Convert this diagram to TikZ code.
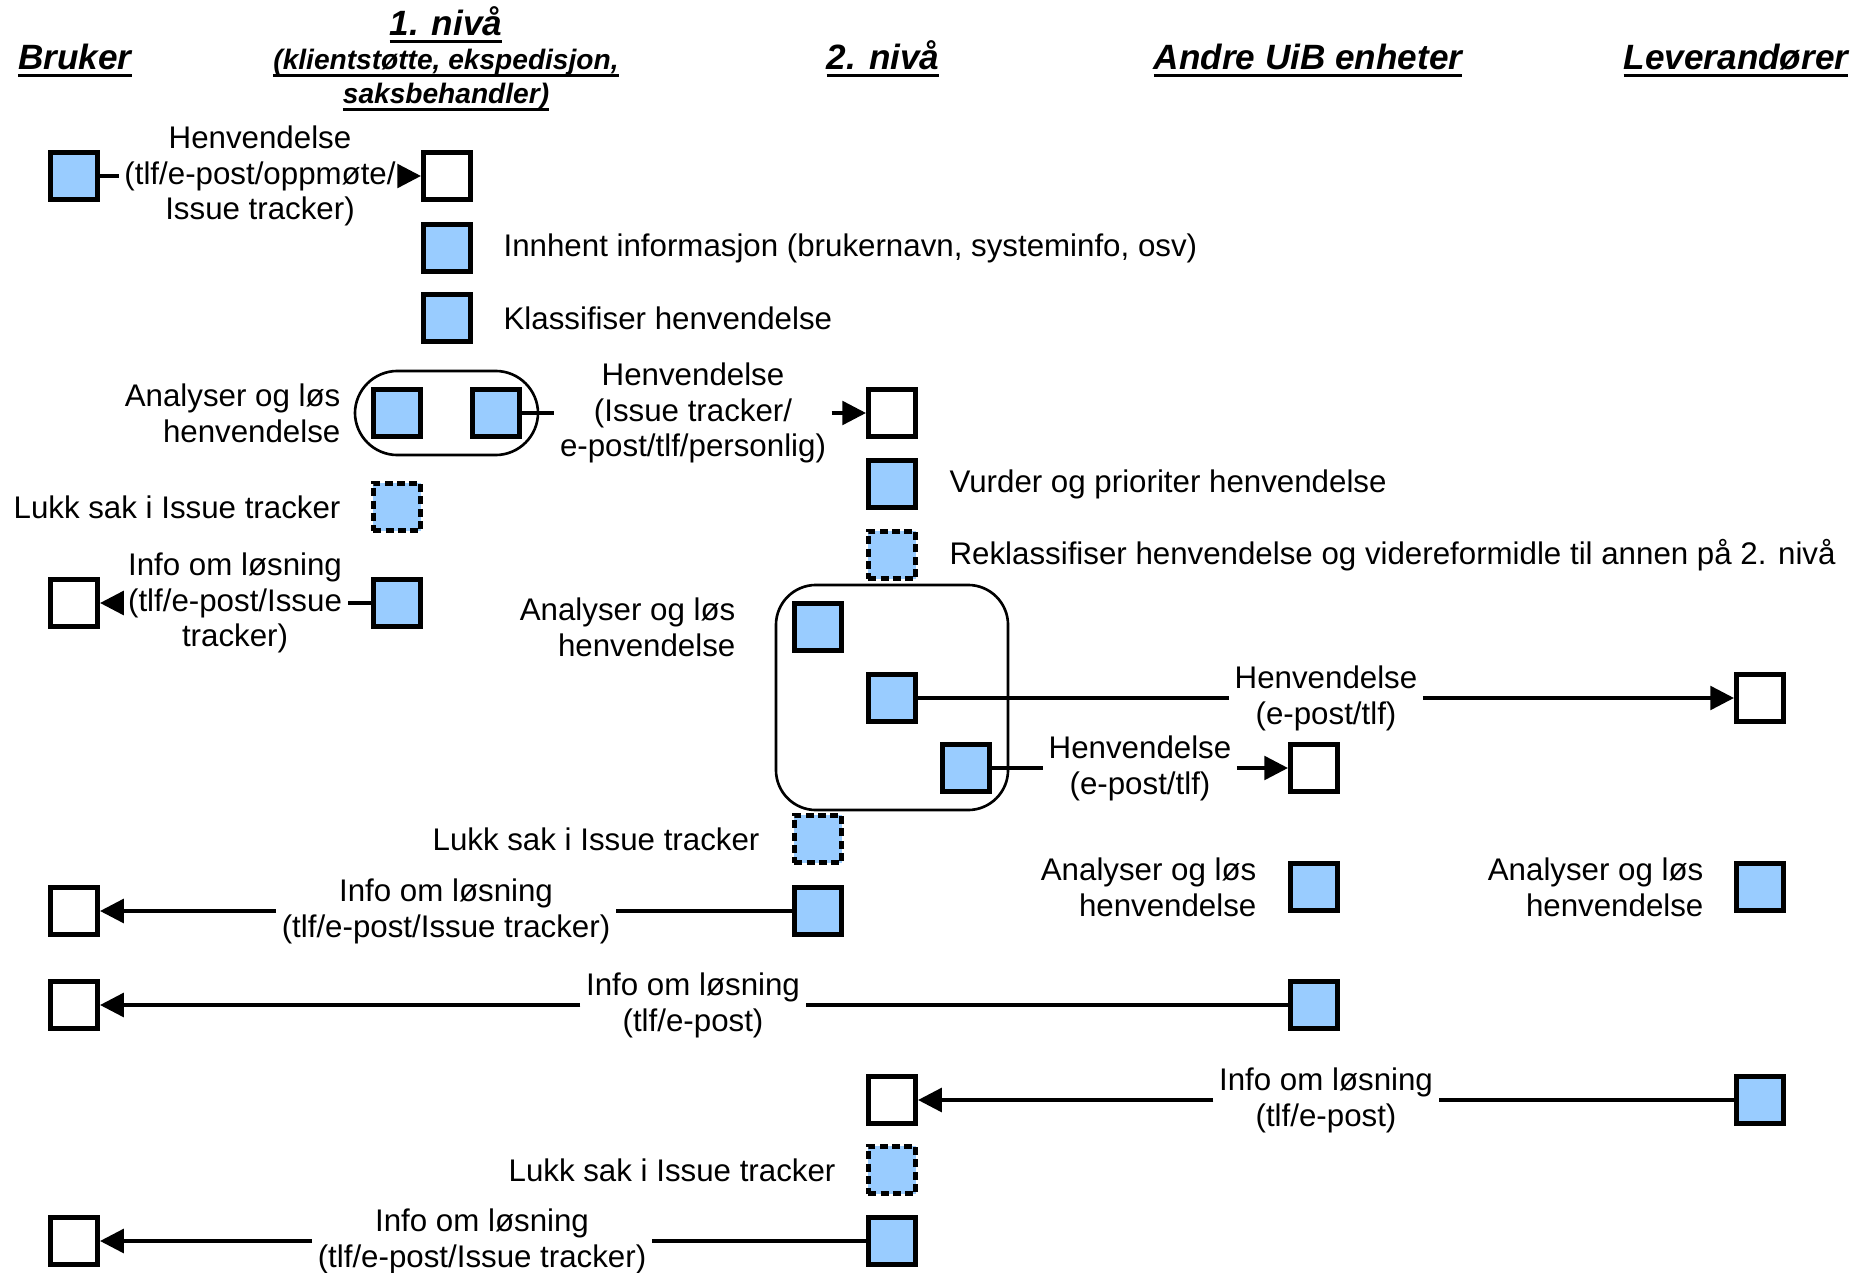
\documentclass[tikz,border=0pt]{standalone}
\usepackage{fontspec}
\setmainfont{Liberation Sans}
\usetikzlibrary{arrows.meta,fit}
\definecolor{boxblue}{HTML}{99CCFF}
\newcommand{\hd}[1]{\setbox0=\hbox{#1}\rlap{\rule[-4pt]{\wd0}{1.5pt}}\box0}

\begin{document}
\begin{tikzpicture}[x=0.02cm,y=-0.02cm]
\tikzstyle{bluebox}=[draw,fill=boxblue,line width=2.6pt,minimum size=0.95cm,inner sep=0pt]
\tikzstyle{whitebox}=[bluebox,fill=white]
\tikzstyle{dashbox}=[bluebox,dash pattern=on 4.6pt off 2.4pt]
\tikzstyle{lbl}=[align=center,inner sep=3pt,font=\fontsize{17.8}{20.4}\selectfont]
\tikzstyle{hdr}=[anchor=base,inner sep=0pt,font=\fontsize{20}{24}\selectfont\bfseries\itshape]
\tikzstyle{subhdr}=[anchor=base,inner sep=0pt,font=\fontsize{16}{19}\selectfont\bfseries\itshape]
\tikzstyle{groupbox}=[draw,line width=1.5pt,inner sep=0.32cm]
\tikzstyle{conn}=[line width=2pt]
\tikzstyle{conarrow}=[conn,-{Triangle[length=13.5pt,width=13.5pt]}]
\useasboundingbox (0,0) rectangle (1868,1273);

\node[hdr] (hbruker) at (75,70) {\hd{Bruker}};
\node[hdr] (hniva1) at (446,36) {\hd{1. nivå}};
\node[subhdr] (hsub1) at (446,70) {\hd{(klientstøtte, ekspedisjon,}};
\node[subhdr] (hsub2) at (446,104) {\hd{saksbehandler)}};
\node[hdr] (hniva2) at (883,70) {\hd{2. nivå}};
\node[hdr] (handre) at (1308,70) {\hd{Andre UiB enheter}};
\node[hdr] (hlev) at (1736,70) {\hd{Leverandører}};

\node[bluebox] (u1) at (74,176) {};
\node[whitebox] (f1) at (447,176) {};
\node[bluebox] (f2) at (447,248) {};
\node[bluebox] (f3) at (447,318) {};
\node[bluebox] (f4a) at (397,413) {};
\node[bluebox] (f4b) at (496,413) {};
\node[groupbox,fit=(f4a)(f4b),rounded corners=0.85cm] (f4) {};
\node[dashbox] (f5) at (397,507) {};
\node[bluebox] (f6) at (397,603) {};
\node[whitebox] (u2) at (74,603) {};

\node[whitebox] (s1) at (892,413) {};
\node[bluebox] (s2) at (892,484) {};
\node[dashbox] (s3) at (892,555) {};
\node[bluebox] (s4a) at (818,627) {};
\node[bluebox] (s4b) at (892,698) {};
\node[bluebox] (s4c) at (966,768) {};
\node[groupbox,fit=(s4a)(s4b)(s4c),rounded corners=0.8cm] (s4) {};
\node[whitebox] (l1) at (1760,698) {};
\node[whitebox] (a1) at (1314,768) {};
\node[dashbox] (s5) at (818,839) {};
\node[bluebox] (s6) at (818,911) {};
\node[whitebox] (u3) at (74,911) {};
\node[bluebox] (a2) at (1314,887) {};
\node[bluebox] (l2) at (1760,887) {};
\node[bluebox] (a3) at (1314,1005) {};
\node[whitebox] (u4) at (74,1005) {};
\node[bluebox] (l3) at (1760,1100) {};
\node[whitebox] (s7) at (892,1100) {};
\node[dashbox] (s8) at (892,1170) {};
\node[bluebox] (s9) at (892,1241) {};
\node[whitebox] (u5) at (74,1241) {};

\node[lbl] (t1) at (260,176) {Henvendelse\\(tlf/e-post/oppmøte/\\Issue tracker)};
\node[lbl,anchor=west] (t2) at (498,248) {Innhent informasjon (brukernavn, systeminfo, osv)};
\node[lbl,anchor=west] (t3) at (498,318) {Klassifiser henvendelse};
\node[lbl,anchor=east,align=right] (t4) at (346,413) {Analyser og løs\\henvendelse};
\node[lbl] (t5) at (693,413) {Henvendelse\\(Issue tracker/\\e-post/tlf/personlig)};
\node[lbl,anchor=east] (t6) at (346,507) {Lukk sak i Issue tracker};
\node[lbl] (t7) at (235,603) {Info om løsning\\(tlf/e-post/Issue\\tracker)};
\node[lbl,anchor=west] (t8) at (944,484) {Vurder og prioriter henvendelse};
\node[lbl,anchor=west] (t9) at (944,555) {Reklassifiser henvendelse og videreformidle til annen på 2. nivå};
\node[lbl,anchor=east,align=right] (t10) at (741,627) {Analyser og løs\\henvendelse};
\node[lbl] (t11) at (1326,698) {Henvendelse\\(e-post/tlf)};
\node[lbl] (t12) at (1140,768) {Henvendelse\\(e-post/tlf)};
\node[lbl,anchor=east] (t13) at (765,839) {Lukk sak i Issue tracker};
\node[lbl,anchor=east,align=right] (t14) at (1262,887) {Analyser og løs\\henvendelse};
\node[lbl,anchor=east,align=right] (t15) at (1709,887) {Analyser og løs\\henvendelse};
\node[lbl] (t16) at (446,911) {Info om løsning\\(tlf/e-post/Issue tracker)};
\node[lbl] (t17) at (693,1005) {Info om løsning\\(tlf/e-post)};
\node[lbl] (t18) at (1326,1100) {Info om løsning\\(tlf/e-post)};
\node[lbl,anchor=east] (t19) at (841,1170) {Lukk sak i Issue tracker};
\node[lbl] (t20) at (482,1241) {Info om løsning\\(tlf/e-post/Issue tracker)};

\draw[conn] (u1) -- (t1);
\draw[conarrow] (t1) -- (f1);
\draw[conn] (f4b) -- (t5);
\draw[conarrow] (t5) -- (s1);
\draw[conn] (f6) -- (t7);
\draw[conarrow] (t7) -- (u2);
\draw[conn] (s4b) -- (t11);
\draw[conarrow] (t11) -- (l1);
\draw[conn] (s4c) -- (t12);
\draw[conarrow] (t12) -- (a1);
\draw[conn] (s6) -- (t16);
\draw[conarrow] (t16) -- (u3);
\draw[conn] (a3) -- (t17);
\draw[conarrow] (t17) -- (u4);
\draw[conn] (l3) -- (t18);
\draw[conarrow] (t18) -- (s7);
\draw[conn] (s9) -- (t20);
\draw[conarrow] (t20) -- (u5);
\end{tikzpicture}
\end{document}
